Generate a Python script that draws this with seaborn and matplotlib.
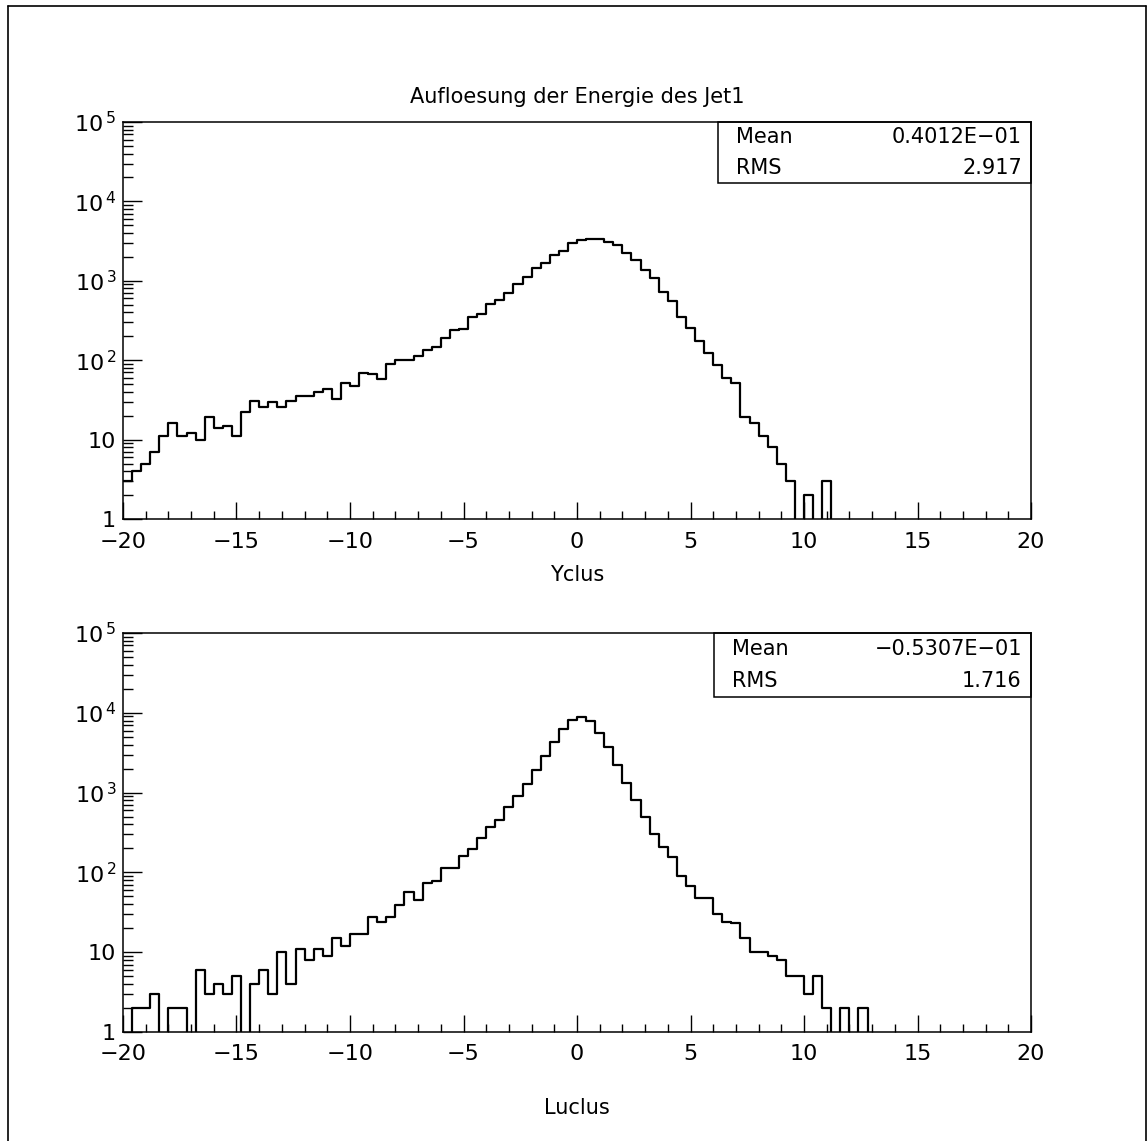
import numpy as np
import pandas as pd
import matplotlib
matplotlib.use("Agg")
import matplotlib.pyplot as plt
from matplotlib.lines import Line2D
from matplotlib.patches import Rectangle
from matplotlib.ticker import LogLocator, NullFormatter, MultipleLocator
import seaborn as sns

# ---------------- data (100 bins of width 0.4 from -20 to 20) ----------------
x_range = (-20, 20)
n_bins = 100

yclus_counts = [3, 4, 5, 7, 11, 16, 11, 12, 10, 19,
                14, 15, 11, 22, 31, 26, 30, 26, 31, 35,
                35, 40, 43, 32, 52, 48, 69, 67, 58, 89,
                102, 102, 113, 134, 148, 192, 241, 250, 350, 385,
                505, 575, 710, 920, 1130, 1450, 1700, 2140, 2400, 2950,
                3300, 3400, 3400, 3100, 2800, 2250, 1820, 1360, 1070, 725,
                560, 355, 252, 174, 122, 87, 59, 51, 19, 16,
                11, 8, 5, 3, 0, 2, 0, 3, 0, 0,
                0, 0, 0, 0, 0, 0, 0, 0, 0, 0,
                0, 0, 0, 0, 0, 0, 0, 0, 0, 0]

luclus_counts = [0, 2, 2, 3, 0, 2, 2, 0, 6, 3,
                 4, 3, 5, 0, 4, 6, 3, 10, 4, 11,
                 8, 11, 9, 15, 12, 17, 17, 28, 24, 28,
                 39, 56, 45, 74, 78, 114, 114, 160, 198, 270,
                 370, 460, 660, 900, 1300, 1900, 2870, 4300, 6200, 8200,
                 8900, 7900, 5560, 3700, 2220, 1310, 810, 490, 303, 210,
                 155, 91, 67, 48, 48, 30, 24, 23, 15, 10,
                 10, 9, 8, 5, 5, 3, 5, 2, 0, 2,
                 0, 2, 0, 0, 0, 0, 0, 0, 0, 0,
                 0, 0, 0, 0, 0, 0, 0, 0, 0, 0]

title_text = "Aufloesung der Energie des Jet1"
xlabels = ["Yclus", "Luclus"]
stats_mean = ["0.4012E\u221201", "\u22120.5307E\u221201"]
stats_rms = ["2.917", "1.716"]

x_major_ticks = [-20, -15, -10, -5, 0, 5, 10, 15, 20]
x_tick_labels = ["\u221220", "\u221215", "\u221210", "\u22125", "0", "5", "10", "15", "20"]
y_major_ticks = [1, 10, 100, 1000, 10000, 100000]
y_tick_labels = ["1", "10", r"$10^{\,2}$", r"$10^{\,3}$", r"$10^{\,4}$", r"$10^{\,5}$"]

# ---------------- style ----------------
sns.set_style("ticks")
plt.rcParams["font.family"] = ["DejaVu Sans"]
plt.rcParams["mathtext.default"] = "regular"
plt.rcParams["axes.linewidth"] = 1.1
plt.rcParams["text.color"] = "black"
plt.rcParams["axes.labelcolor"] = "black"
plt.rcParams["xtick.color"] = "black"
plt.rcParams["ytick.color"] = "black"

W, H = 1148, 1141
fig = plt.figure(figsize=(W / 100, H / 100), dpi=100)
fig.patch.set_facecolor("white")

# axes positions in pixels: left, right, top, bottom
panels = [(123, 1031, 122, 519), (123, 1031, 633, 1032)]
box_left_px = [718, 714]
box_bottom_px = [183, 697]
xlabel_y_px = [575, 1108]

bin_w = (x_range[1] - x_range[0]) / n_bins
centers = x_range[0] + bin_w * (np.arange(n_bins) + 0.5)
datasets = [yclus_counts, luclus_counts]

for i, (l, r, t, b) in enumerate(panels):
    ax = fig.add_axes([l / W, 1 - b / H, (r - l) / W, (b - t) / H])
    df = pd.DataFrame({"x": centers, "w": np.asarray(datasets[i], dtype=float)})
    sns.histplot(data=df, x="x", weights="w", bins=n_bins, binrange=x_range,
                 element="step", fill=False, color="black", linewidth=1.6, ax=ax)
    ax.set_yscale("log", nonpositive="clip")
    ax.set_xlim(*x_range)
    ax.set_ylim(1, 1e5)
    ax.set_ylabel("")
    ax.set_xlabel(xlabels[i], fontsize=15, color="black")
    ax.xaxis.label.set_va("center")
    ax.xaxis.set_label_coords(0.5, (b - xlabel_y_px[i]) / (b - t))

    for s in ax.spines.values():
        s.set_visible(True)
        s.set_linewidth(1.1)
        s.set_color("black")

    ax.set_xticks(x_major_ticks, labels=x_tick_labels)
    ax.xaxis.set_minor_locator(MultipleLocator(1))
    ax.set_yticks(y_major_ticks, labels=y_tick_labels)
    ax.yaxis.set_minor_locator(LogLocator(base=10, subs=np.arange(2, 10)))
    ax.yaxis.set_minor_formatter(NullFormatter())

    ax.tick_params(axis="x", which="major", direction="in", length=12.5, width=1.0,
                   top=False, bottom=True, labelsize=16, pad=9, colors="black")
    ax.tick_params(axis="x", which="minor", direction="in", length=5.5, width=1.0,
                   top=False, bottom=True, colors="black")
    ax.tick_params(axis="y", which="major", direction="in", length=13.5, width=1.0,
                   left=True, right=False, labelsize=16, pad=5, colors="black")
    ax.tick_params(axis="y", which="minor", direction="in", length=7, width=1.0,
                   left=True, right=False, colors="black")

    # statistics box
    bx = (box_left_px[i] - l) / (r - l)
    by = (b - box_bottom_px[i]) / (b - t)
    ax.add_patch(Rectangle((bx, by), 1 - bx, 1 - by, transform=ax.transAxes,
                           fill=False, edgecolor="black", linewidth=1.1,
                           clip_on=False, zorder=5))
    row1 = 1 - (1 - by) * 0.25
    row2 = 1 - (1 - by) * 0.75
    ax.text(bx + 0.02, row1, "Mean", transform=ax.transAxes, fontsize=15,
            ha="left", va="center", color="black")
    ax.text(0.99, row1, stats_mean[i], transform=ax.transAxes, fontsize=15,
            ha="right", va="center", color="black")
    ax.text(bx + 0.02, row2, "RMS", transform=ax.transAxes, fontsize=15,
            ha="left", va="center", color="black")
    ax.text(0.99, row2, stats_rms[i], transform=ax.transAxes, fontsize=15,
            ha="right", va="center", color="black")

# title
fig.text(577 / W, 1 - 97 / H, title_text, ha="center", va="center", fontsize=15,
         color="black")

# outer frame (left, top, right)
lx, rx, ty = 8 / W, 1146 / W, 1 - 6 / H
fig.add_artist(Line2D([lx, lx], [0, ty], transform=fig.transFigure, color="black", lw=1.2))
fig.add_artist(Line2D([lx, rx], [ty, ty], transform=fig.transFigure, color="black", lw=1.2))
fig.add_artist(Line2D([rx, rx], [0, ty], transform=fig.transFigure, color="black", lw=1.2))

fig.savefig("out.png", dpi=100, facecolor="white")
